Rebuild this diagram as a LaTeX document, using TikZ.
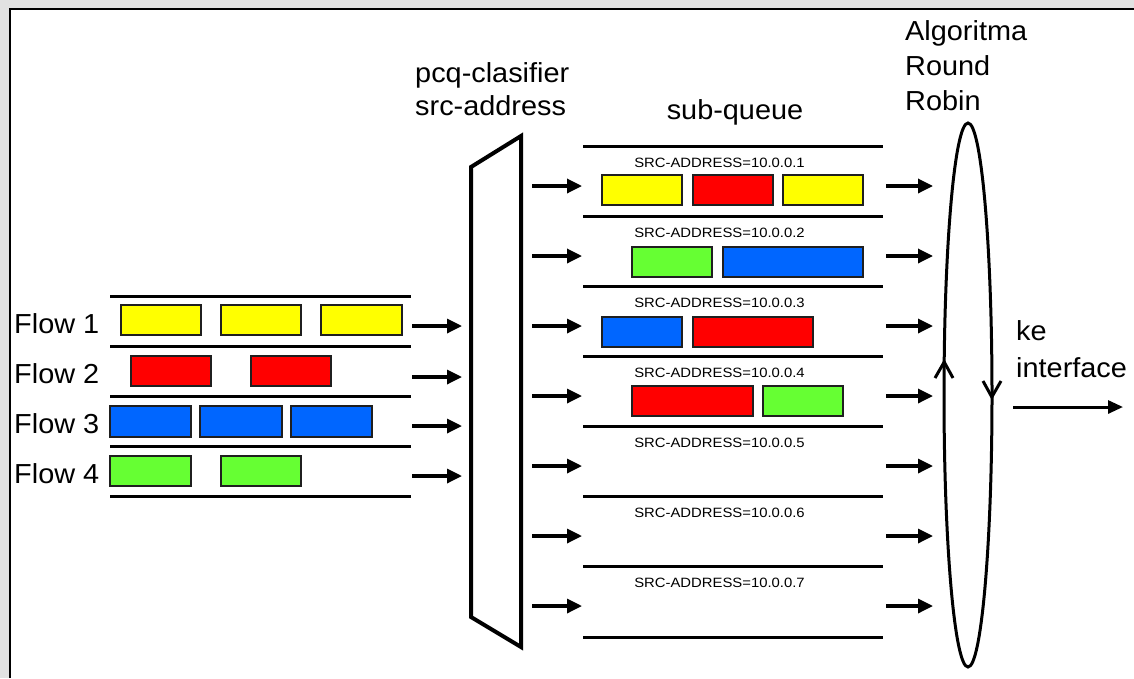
\documentclass[tikz,border=0pt]{standalone}
\usepackage{fontspec}
\setmainfont{Liberation Sans}
\newfontfamily\bigsans[FakeStretch=1.05]{Liberation Sans}
\newfontfamily\smallsans[FakeStretch=1.1]{Liberation Sans}
\usetikzlibrary{arrows.meta,shapes.geometric}
\definecolor{pyellow}{HTML}{FFFF00}
\definecolor{pred}{HTML}{FF0000}
\definecolor{pblue}{HTML}{0066FF}
\definecolor{pgreen}{HTML}{66FF33}
\definecolor{framegrey}{HTML}{E2E2E2}
\tikzset{
  lbl/.style={font=\bigsans\fontsize{27.5}{33}\selectfont, inner sep=0pt, anchor=base west},
  srclbl/.style={font=\smallsans\fontsize{13.5}{16}\selectfont, inner sep=0pt, anchor=base},
  pkt/.style={draw=black!88, line width=1.3pt},
  rail/.style={line width=3pt},
  arr/.style={line width=3.3pt, -{Triangle[length=15pt,width=14pt]}},
  vhead/.style={line width=3pt, line join=miter},
}
\begin{document}
\begin{tikzpicture}[x=1pt,y=-1pt]
\useasboundingbox (0,0) rectangle (1134,678);
\fill[framegrey] (0,0) rectangle (1134,678);
\fill[white] (9,8) rectangle (1134,678);
\draw[line width=2.5pt] (10.2,678) -- (10.2,9.2) -- (1134,9.2);

% ---- left flows ----
\node[lbl] (f1) at (14,333) {Flow 1};
\node[lbl] (f2) at (14,383) {Flow 2};
\node[lbl] (f3) at (14,433) {Flow 3};
\node[lbl] (f4) at (14,483) {Flow 4};
\foreach \yy in {296,346,396,446,496} \draw[rail] (110,\yy) -- (411,\yy);
% flow 1
\draw[pkt,fill=pyellow] (121,305) rectangle (201,335);
\draw[pkt,fill=pyellow] (221,305) rectangle (301,335);
\draw[pkt,fill=pyellow] (321,305) rectangle (402,335);
% flow 2
\draw[pkt,fill=pred] (131,356) rectangle (211,386);
\draw[pkt,fill=pred] (251,356) rectangle (331,386);
% flow 3
\draw[pkt,fill=pblue] (110,406) rectangle (191,437);
\draw[pkt,fill=pblue] (200,406) rectangle (282,437);
\draw[pkt,fill=pblue] (291,406) rectangle (372,437);
% flow 4
\draw[pkt,fill=pgreen] (110,456) rectangle (191,486);
\draw[pkt,fill=pgreen] (221,456) rectangle (301,486);
% input arrows
\foreach \i/\yy in {1/326,2/377,3/426,4/476}{
  \coordinate (in\i a) at (412,\yy);
  \coordinate (in\i b) at (462,\yy);
  \draw[arr] (in\i a) -- (in\i b);
}

% ---- classifier ----
\node[lbl] (pcq1) at (415,82) {pcq-clasifier};
\node[lbl] (pcq2) at (415,115) {src-address};
\coordinate (c1) at (471,167);
\coordinate (c2) at (521,136);
\coordinate (c3) at (521,647);
\coordinate (c4) at (471,617);
\draw[line width=4pt, line join=miter] (c1) -- (c2) -- (c3) -- (c4) -- cycle;

% ---- sub-queues ----
\node[font=\bigsans\fontsize{27.5}{33}\selectfont, inner sep=0pt, anchor=base] (sq) at (735,119) {sub-queue};
\foreach \yy in {146,216,286,356,426,496,566,637} \draw[rail] (583,\yy) -- (883,\yy);
\foreach \k in {1,...,7}{
  \pgfmathsetmacro{\yb}{167+70*(\k-1)}
  \node[srclbl] (src\k) at (719.5,\yb) {SRC-ADDRESS=10.0.0.\k};
  \pgfmathsetmacro{\ya}{186+70*(\k-1)}
  \coordinate (m\k a) at (532,\ya);
  \coordinate (m\k b) at (582,\ya);
  \draw[arr] (m\k a) -- (m\k b);
  \coordinate (o\k a) at (886,\ya);
  \coordinate (o\k b) at (933,\ya);
  \draw[arr] (o\k a) -- (o\k b);
}
% queue 1
\draw[pkt,fill=pyellow] (602,175) rectangle (682,205);
\draw[pkt,fill=pred] (693,175) rectangle (773,205);
\draw[pkt,fill=pyellow] (783,175) rectangle (863,205);
% queue 2
\draw[pkt,fill=pgreen] (632,247) rectangle (712,277);
\draw[pkt,fill=pblue] (723,247) rectangle (863,277);
% queue 3
\draw[pkt,fill=pblue] (602,317) rectangle (682,347);
\draw[pkt,fill=pred] (693,317) rectangle (813,347);
% queue 4
\draw[pkt,fill=pred] (632,386) rectangle (753,416);
\draw[pkt,fill=pgreen] (763,386) rectangle (843,416);

% ---- round robin ----
\node[lbl] (al1) at (905,40) {Algoritma};
\node[lbl] (al2) at (905,75) {Round};
\node[lbl] (al3) at (905,110) {Robin};
\node[draw, ellipse, line width=3pt, minimum width=48pt, minimum height=544pt, inner sep=0pt] (rr) at (968,395) {};
% up arrowhead on left side, down arrowhead on right side
\coordinate (ul) at (935,378);
\coordinate (ut) at (944.2,362);
\coordinate (ur) at (953,378);
\draw[vhead] (ul) -- (ut) -- (ur);
\coordinate (dl) at (983,381);
\coordinate (dt) at (991.8,397);
\coordinate (dr) at (1001,381);
\draw[vhead] (dl) -- (dt) -- (dr);

% ---- output ----
\node[lbl] (ke1) at (1016,340) {ke};
\node[lbl] (ke2) at (1016,377) {interface};
\coordinate (outa) at (1013,407);
\coordinate (outb) at (1123,407);
\draw[line width=3pt, -{Triangle[length=15pt,width=13pt]}] (outa) -- (outb);
\end{tikzpicture}
\end{document}
